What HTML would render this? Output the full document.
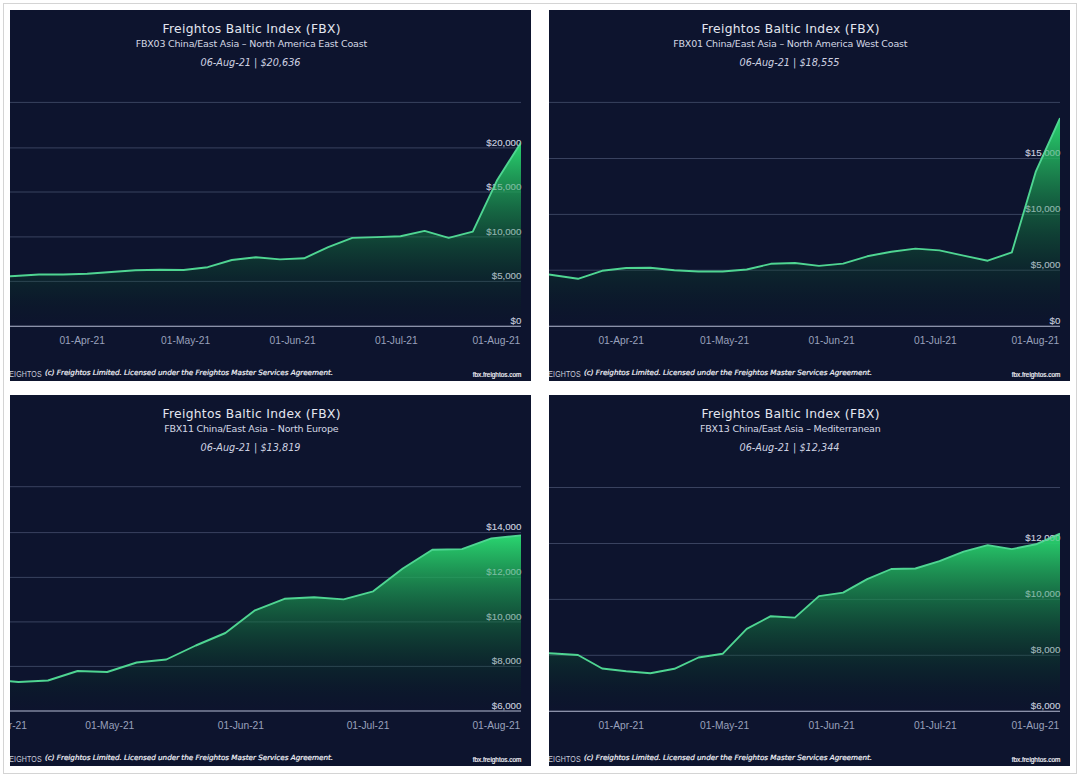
<!DOCTYPE html>
<html lang="en"><head><meta charset="utf-8"><title>Freightos Baltic Index (FBX)</title>
<style>
html,body{margin:0;padding:0;background:#fff;}
body{width:1080px;height:777px;position:relative;overflow:hidden;}
.frame{position:absolute;left:3px;top:3px;width:1074px;height:771px;border:1px solid #d4d4d4;box-sizing:border-box;}
.panel{position:absolute;display:block;overflow:hidden;}
text{font-family:"Liberation Sans",sans-serif;}
.t1{font-family:"DejaVu Sans","Liberation Sans",sans-serif;font-size:12.3px;letter-spacing:0.31px;fill:#e3e6ef;}
.t2{font-family:"DejaVu Sans","Liberation Sans",sans-serif;font-size:9.5px;letter-spacing:-0.19px;fill:#d4d8e5;}
.t3{font-family:"DejaVu Sans","Liberation Sans",sans-serif;font-size:9.7px;font-style:italic;fill:#cdd1e1;}
.gl{stroke:#39425f;stroke-width:1;}
.bl{stroke:#b6bbd3;stroke-width:1.15;}
.yl{font-size:9.7px;fill:#c3c8da;}
.xl{font-size:10.25px;fill:#99a1bc;}
.logo{font-size:9.8px;fill:#c9cddb;letter-spacing:0.2px;}
.ft{font-family:"DejaVu Sans","Liberation Sans",sans-serif;font-size:7.2px;font-style:italic;fill:#f4f5fa;stroke:#f4f5fa;stroke-width:0.2px;}
.url{font-size:6.4px;fill:#f4f5fa;stroke:#f4f5fa;stroke-width:0.18px;}
</style></head>
<body>
<div class="frame"></div>
<svg class="panel" style="left:10px;top:10px" width="521" height="371" viewBox="0 0 521 371">
<defs><linearGradient id="g-tl" gradientUnits="userSpaceOnUse" x1="0" y1="132.4" x2="0" y2="316.2"><stop offset="0.0000" stop-color="rgb(42,214,112)" stop-opacity="1.000"/><stop offset="0.0625" stop-color="rgb(39,202,106)" stop-opacity="0.944"/><stop offset="0.1250" stop-color="rgb(37,191,100)" stop-opacity="0.887"/><stop offset="0.1875" stop-color="rgb(34,179,94)" stop-opacity="0.830"/><stop offset="0.2500" stop-color="rgb(32,168,88)" stop-opacity="0.772"/><stop offset="0.3125" stop-color="rgb(29,156,83)" stop-opacity="0.714"/><stop offset="0.3750" stop-color="rgb(26,144,77)" stop-opacity="0.655"/><stop offset="0.4375" stop-color="rgb(24,133,71)" stop-opacity="0.596"/><stop offset="0.5000" stop-color="rgb(21,121,65)" stop-opacity="0.536"/><stop offset="0.5625" stop-color="rgb(18,109,59)" stop-opacity="0.475"/><stop offset="0.6250" stop-color="rgb(16,98,53)" stop-opacity="0.414"/><stop offset="0.6875" stop-color="rgb(13,86,47)" stop-opacity="0.351"/><stop offset="0.7500" stop-color="rgb(10,74,42)" stop-opacity="0.287"/><stop offset="0.8125" stop-color="rgb(8,63,36)" stop-opacity="0.222"/><stop offset="0.8750" stop-color="rgb(5,51,30)" stop-opacity="0.154"/><stop offset="0.9375" stop-color="rgb(3,40,24)" stop-opacity="0.082"/><stop offset="1.0000" stop-color="rgb(0,28,18)" stop-opacity="0.000"/></linearGradient><clipPath id="c-tl"><rect x="0" y="0" width="511.0" height="371"/></clipPath></defs>
<rect width="521" height="371" fill="#0d142e"/>
<text class="t1" x="241.7" y="22.7" text-anchor="middle">Freightos Baltic Index (FBX)</text>
<text class="t2" x="241.3" y="37.2" text-anchor="middle">FBX03 China/East Asia – North America East Coast</text>
<text class="t3" x="240.5" y="55.9" text-anchor="middle">06-Aug-21 | $20,636</text>
<line class="gl" x1="0" x2="511.0" y1="92.4" y2="92.4"/>
<line class="gl" x1="0" x2="511.0" y1="137.9" y2="137.9"/>
<line class="gl" x1="0" x2="511.0" y1="182.0" y2="182.0"/>
<line class="gl" x1="0" x2="511.0" y1="226.9" y2="226.9"/>
<line class="gl" x1="0" x2="511.0" y1="271.4" y2="271.4"/>
<text class="yl" x="511.4" y="135.5" text-anchor="end">$20,000</text>
<text class="yl" x="511.4" y="179.6" text-anchor="end">$15,000</text>
<text class="yl" x="511.4" y="224.5" text-anchor="end">$10,000</text>
<text class="yl" x="511.4" y="269.0" text-anchor="end">$5,000</text>
<text class="yl" x="511.4" y="313.8" text-anchor="end">$0</text>
<g clip-path="url(#c-tl)"><path d="M-19.2,316.2 L-19.2,267.5 L4.9,266.0 L29.0,264.5 L53.1,264.5 L77.2,263.7 L101.3,262.0 L125.4,260.2 L149.5,259.7 L173.6,260.0 L197.7,257.2 L221.8,250.0 L245.9,247.2 L270.0,249.4 L294.1,248.3 L318.2,237.2 L342.3,227.9 L366.4,227.1 L390.5,226.3 L414.6,220.9 L438.7,227.9 L462.8,221.6 L486.9,170.6 L511.0,132.4 L511.0,316.2 Z" fill="url(#g-tl)"/><polyline points="-19.2,267.5 4.9,266.0 29.0,264.5 53.1,264.5 77.2,263.7 101.3,262.0 125.4,260.2 149.5,259.7 173.6,260.0 197.7,257.2 221.8,250.0 245.9,247.2 270.0,249.4 294.1,248.3 318.2,237.2 342.3,227.9 366.4,227.1 390.5,226.3 414.6,220.9 438.7,227.9 462.8,221.6 486.9,170.6 511.0,132.4" fill="none" stroke="#4fd592" stroke-width="1.9" stroke-linejoin="round" stroke-linecap="butt"/></g>
<text class="yl" opacity="0.45" x="511.4" y="135.5" text-anchor="end">$20,000</text>
<text class="yl" opacity="0.45" x="511.4" y="179.6" text-anchor="end">$15,000</text>
<text class="yl" opacity="0.45" x="511.4" y="224.5" text-anchor="end">$10,000</text>
<text class="yl" opacity="0.45" x="511.4" y="269.0" text-anchor="end">$5,000</text>
<text class="yl" opacity="0.45" x="511.4" y="313.8" text-anchor="end">$0</text>
<line class="bl" x1="0" x2="511.0" y1="316.2" y2="316.2"/>
<text class="xl" x="72.2" y="333.8" text-anchor="middle">01-Apr-21</text>
<text class="xl" x="175.6" y="333.8" text-anchor="middle">01-May-21</text>
<text class="xl" x="282.7" y="333.8" text-anchor="middle">01-Jun-21</text>
<text class="xl" x="386.4" y="333.8" text-anchor="middle">01-Jul-21</text>
<text class="xl" x="510.3" y="333.8" text-anchor="end">01-Aug-21</text>
<text class="logo" transform="translate(31.8,367) scale(0.72,1)" text-anchor="end">FREIGHTOS</text>
<text class="ft" x="35" y="365">(c) Freightos Limited. Licensed under the Freightos Master Services Agreement.</text>
<text class="url" x="511.3" y="367.2" text-anchor="end">fbx.freightos.com</text>
</svg>
<svg class="panel" style="left:549px;top:10px" width="521" height="371" viewBox="0 0 521 371">
<defs><linearGradient id="g-tr" gradientUnits="userSpaceOnUse" x1="0" y1="108.1" x2="0" y2="316.2"><stop offset="0.0000" stop-color="rgb(42,214,112)" stop-opacity="1.000"/><stop offset="0.0625" stop-color="rgb(39,202,106)" stop-opacity="0.944"/><stop offset="0.1250" stop-color="rgb(37,191,100)" stop-opacity="0.887"/><stop offset="0.1875" stop-color="rgb(34,179,94)" stop-opacity="0.830"/><stop offset="0.2500" stop-color="rgb(32,168,88)" stop-opacity="0.772"/><stop offset="0.3125" stop-color="rgb(29,156,83)" stop-opacity="0.714"/><stop offset="0.3750" stop-color="rgb(26,144,77)" stop-opacity="0.655"/><stop offset="0.4375" stop-color="rgb(24,133,71)" stop-opacity="0.596"/><stop offset="0.5000" stop-color="rgb(21,121,65)" stop-opacity="0.536"/><stop offset="0.5625" stop-color="rgb(18,109,59)" stop-opacity="0.475"/><stop offset="0.6250" stop-color="rgb(16,98,53)" stop-opacity="0.414"/><stop offset="0.6875" stop-color="rgb(13,86,47)" stop-opacity="0.351"/><stop offset="0.7500" stop-color="rgb(10,74,42)" stop-opacity="0.287"/><stop offset="0.8125" stop-color="rgb(8,63,36)" stop-opacity="0.222"/><stop offset="0.8750" stop-color="rgb(5,51,30)" stop-opacity="0.154"/><stop offset="0.9375" stop-color="rgb(3,40,24)" stop-opacity="0.082"/><stop offset="1.0000" stop-color="rgb(0,28,18)" stop-opacity="0.000"/></linearGradient><clipPath id="c-tr"><rect x="0" y="0" width="511.0" height="371"/></clipPath></defs>
<rect width="521" height="371" fill="#0d142e"/>
<text class="t1" x="241.7" y="22.7" text-anchor="middle">Freightos Baltic Index (FBX)</text>
<text class="t2" x="241.3" y="37.2" text-anchor="middle">FBX01 China/East Asia – North America West Coast</text>
<text class="t3" x="240.5" y="55.9" text-anchor="middle">06-Aug-21 | $18,555</text>
<line class="gl" x1="0" x2="511.0" y1="92.4" y2="92.4"/>
<line class="gl" x1="0" x2="511.0" y1="148.5" y2="148.5"/>
<line class="gl" x1="0" x2="511.0" y1="204.4" y2="204.4"/>
<line class="gl" x1="0" x2="511.0" y1="260.2" y2="260.2"/>
<text class="yl" x="511.4" y="146.1" text-anchor="end">$15,000</text>
<text class="yl" x="511.4" y="202.0" text-anchor="end">$10,000</text>
<text class="yl" x="511.4" y="257.8" text-anchor="end">$5,000</text>
<text class="yl" x="511.4" y="313.8" text-anchor="end">$0</text>
<g clip-path="url(#c-tr)"><path d="M-19.2,316.2 L-19.2,262.0 L4.9,265.2 L29.0,268.8 L53.1,260.8 L77.2,258.0 L101.3,257.8 L125.4,260.2 L149.5,261.5 L173.6,261.5 L197.7,259.5 L221.8,253.8 L245.9,253.0 L270.0,255.9 L294.1,253.6 L318.2,246.3 L342.3,241.7 L366.4,238.6 L390.5,240.4 L414.6,245.6 L438.7,250.7 L462.8,242.4 L486.9,161.3 L511.0,108.1 L511.0,316.2 Z" fill="url(#g-tr)"/><polyline points="-19.2,262.0 4.9,265.2 29.0,268.8 53.1,260.8 77.2,258.0 101.3,257.8 125.4,260.2 149.5,261.5 173.6,261.5 197.7,259.5 221.8,253.8 245.9,253.0 270.0,255.9 294.1,253.6 318.2,246.3 342.3,241.7 366.4,238.6 390.5,240.4 414.6,245.6 438.7,250.7 462.8,242.4 486.9,161.3 511.0,108.1" fill="none" stroke="#4fd592" stroke-width="1.9" stroke-linejoin="round" stroke-linecap="butt"/></g>
<text class="yl" opacity="0.45" x="511.4" y="146.1" text-anchor="end">$15,000</text>
<text class="yl" opacity="0.45" x="511.4" y="202.0" text-anchor="end">$10,000</text>
<text class="yl" opacity="0.45" x="511.4" y="257.8" text-anchor="end">$5,000</text>
<text class="yl" opacity="0.45" x="511.4" y="313.8" text-anchor="end">$0</text>
<line class="bl" x1="0" x2="511.0" y1="316.2" y2="316.2"/>
<text class="xl" x="72.2" y="333.8" text-anchor="middle">01-Apr-21</text>
<text class="xl" x="175.6" y="333.8" text-anchor="middle">01-May-21</text>
<text class="xl" x="282.7" y="333.8" text-anchor="middle">01-Jun-21</text>
<text class="xl" x="386.4" y="333.8" text-anchor="middle">01-Jul-21</text>
<text class="xl" x="510.3" y="333.8" text-anchor="end">01-Aug-21</text>
<text class="logo" transform="translate(31.8,367) scale(0.72,1)" text-anchor="end">FREIGHTOS</text>
<text class="ft" x="35" y="365">(c) Freightos Limited. Licensed under the Freightos Master Services Agreement.</text>
<text class="url" x="511.3" y="367.2" text-anchor="end">fbx.freightos.com</text>
</svg>
<svg class="panel" style="left:10px;top:395px" width="521" height="371" viewBox="0 0 521 371">
<defs><linearGradient id="g-bl" gradientUnits="userSpaceOnUse" x1="0" y1="140.4" x2="0" y2="316.0"><stop offset="0.0000" stop-color="rgb(42,214,112)" stop-opacity="1.000"/><stop offset="0.0625" stop-color="rgb(39,202,106)" stop-opacity="0.944"/><stop offset="0.1250" stop-color="rgb(37,191,100)" stop-opacity="0.887"/><stop offset="0.1875" stop-color="rgb(34,179,94)" stop-opacity="0.830"/><stop offset="0.2500" stop-color="rgb(32,168,88)" stop-opacity="0.772"/><stop offset="0.3125" stop-color="rgb(29,156,83)" stop-opacity="0.714"/><stop offset="0.3750" stop-color="rgb(26,144,77)" stop-opacity="0.655"/><stop offset="0.4375" stop-color="rgb(24,133,71)" stop-opacity="0.596"/><stop offset="0.5000" stop-color="rgb(21,121,65)" stop-opacity="0.536"/><stop offset="0.5625" stop-color="rgb(18,109,59)" stop-opacity="0.475"/><stop offset="0.6250" stop-color="rgb(16,98,53)" stop-opacity="0.414"/><stop offset="0.6875" stop-color="rgb(13,86,47)" stop-opacity="0.351"/><stop offset="0.7500" stop-color="rgb(10,74,42)" stop-opacity="0.287"/><stop offset="0.8125" stop-color="rgb(8,63,36)" stop-opacity="0.222"/><stop offset="0.8750" stop-color="rgb(5,51,30)" stop-opacity="0.154"/><stop offset="0.9375" stop-color="rgb(3,40,24)" stop-opacity="0.082"/><stop offset="1.0000" stop-color="rgb(0,28,18)" stop-opacity="0.000"/></linearGradient><clipPath id="c-bl"><rect x="0" y="0" width="511.0" height="371"/></clipPath></defs>
<rect width="521" height="371" fill="#0d142e"/>
<text class="t1" x="241.7" y="22.7" text-anchor="middle">Freightos Baltic Index (FBX)</text>
<text class="t2" x="241.3" y="37.2" text-anchor="middle">FBX11 China/East Asia – North Europe</text>
<text class="t3" x="240.5" y="55.9" text-anchor="middle">06-Aug-21 | $13,819</text>
<line class="gl" x1="0" x2="511.0" y1="91.7" y2="91.7"/>
<line class="gl" x1="0" x2="511.0" y1="137.6" y2="137.6"/>
<line class="gl" x1="0" x2="511.0" y1="182.4" y2="182.4"/>
<line class="gl" x1="0" x2="511.0" y1="226.9" y2="226.9"/>
<line class="gl" x1="0" x2="511.0" y1="271.4" y2="271.4"/>
<text class="yl" x="511.4" y="135.2" text-anchor="end">$14,000</text>
<text class="yl" x="511.4" y="180.0" text-anchor="end">$12,000</text>
<text class="yl" x="511.4" y="224.5" text-anchor="end">$10,000</text>
<text class="yl" x="511.4" y="269.0" text-anchor="end">$8,000</text>
<text class="yl" x="511.4" y="313.6" text-anchor="end">$6,000</text>
<g clip-path="url(#c-bl)"><path d="M-21.1,316.0 L-21.1,284.4 L8.5,287.0 L38.0,285.5 L67.6,276.0 L97.2,277.0 L126.7,267.5 L156.3,264.5 L185.8,250.5 L215.4,238.0 L245.0,215.3 L274.5,203.8 L304.1,202.2 L333.6,204.4 L363.2,196.3 L392.8,173.5 L422.3,154.7 L451.9,154.1 L481.4,143.4 L511.0,140.4 L511.0,316.0 Z" fill="url(#g-bl)"/><polyline points="-21.1,284.4 8.5,287.0 38.0,285.5 67.6,276.0 97.2,277.0 126.7,267.5 156.3,264.5 185.8,250.5 215.4,238.0 245.0,215.3 274.5,203.8 304.1,202.2 333.6,204.4 363.2,196.3 392.8,173.5 422.3,154.7 451.9,154.1 481.4,143.4 511.0,140.4" fill="none" stroke="#4fd592" stroke-width="1.9" stroke-linejoin="round" stroke-linecap="butt"/></g>
<text class="yl" opacity="0.45" x="511.4" y="135.2" text-anchor="end">$14,000</text>
<text class="yl" opacity="0.45" x="511.4" y="180.0" text-anchor="end">$12,000</text>
<text class="yl" opacity="0.45" x="511.4" y="224.5" text-anchor="end">$10,000</text>
<text class="yl" opacity="0.45" x="511.4" y="269.0" text-anchor="end">$8,000</text>
<text class="yl" opacity="0.45" x="511.4" y="313.6" text-anchor="end">$6,000</text>
<line class="bl" x1="0" x2="511.0" y1="316.0" y2="316.0"/>
<text class="xl" x="17.0" y="333.8" text-anchor="end">01-Apr-21</text>
<text class="xl" x="99.8" y="333.8" text-anchor="middle">01-May-21</text>
<text class="xl" x="230.9" y="333.8" text-anchor="middle">01-Jun-21</text>
<text class="xl" x="358.0" y="333.8" text-anchor="middle">01-Jul-21</text>
<text class="xl" x="510.3" y="333.8" text-anchor="end">01-Aug-21</text>
<text class="logo" transform="translate(31.8,367) scale(0.72,1)" text-anchor="end">FREIGHTOS</text>
<text class="ft" x="35" y="365">(c) Freightos Limited. Licensed under the Freightos Master Services Agreement.</text>
<text class="url" x="511.3" y="367.2" text-anchor="end">fbx.freightos.com</text>
</svg>
<svg class="panel" style="left:549px;top:395px" width="521" height="371" viewBox="0 0 521 371">
<defs><linearGradient id="g-br" gradientUnits="userSpaceOnUse" x1="0" y1="138.6" x2="0" y2="316.2"><stop offset="0.0000" stop-color="rgb(42,214,112)" stop-opacity="1.000"/><stop offset="0.0625" stop-color="rgb(39,202,106)" stop-opacity="0.944"/><stop offset="0.1250" stop-color="rgb(37,191,100)" stop-opacity="0.887"/><stop offset="0.1875" stop-color="rgb(34,179,94)" stop-opacity="0.830"/><stop offset="0.2500" stop-color="rgb(32,168,88)" stop-opacity="0.772"/><stop offset="0.3125" stop-color="rgb(29,156,83)" stop-opacity="0.714"/><stop offset="0.3750" stop-color="rgb(26,144,77)" stop-opacity="0.655"/><stop offset="0.4375" stop-color="rgb(24,133,71)" stop-opacity="0.596"/><stop offset="0.5000" stop-color="rgb(21,121,65)" stop-opacity="0.536"/><stop offset="0.5625" stop-color="rgb(18,109,59)" stop-opacity="0.475"/><stop offset="0.6250" stop-color="rgb(16,98,53)" stop-opacity="0.414"/><stop offset="0.6875" stop-color="rgb(13,86,47)" stop-opacity="0.351"/><stop offset="0.7500" stop-color="rgb(10,74,42)" stop-opacity="0.287"/><stop offset="0.8125" stop-color="rgb(8,63,36)" stop-opacity="0.222"/><stop offset="0.8750" stop-color="rgb(5,51,30)" stop-opacity="0.154"/><stop offset="0.9375" stop-color="rgb(3,40,24)" stop-opacity="0.082"/><stop offset="1.0000" stop-color="rgb(0,28,18)" stop-opacity="0.000"/></linearGradient><clipPath id="c-br"><rect x="0" y="0" width="511.0" height="371"/></clipPath></defs>
<rect width="521" height="371" fill="#0d142e"/>
<text class="t1" x="241.7" y="22.7" text-anchor="middle">Freightos Baltic Index (FBX)</text>
<text class="t2" x="241.3" y="37.2" text-anchor="middle">FBX13 China/East Asia – Mediterranean</text>
<text class="t3" x="240.5" y="55.9" text-anchor="middle">06-Aug-21 | $12,344</text>
<line class="gl" x1="0" x2="511.0" y1="92.5" y2="92.5"/>
<line class="gl" x1="0" x2="511.0" y1="148.5" y2="148.5"/>
<line class="gl" x1="0" x2="511.0" y1="204.4" y2="204.4"/>
<line class="gl" x1="0" x2="511.0" y1="260.3" y2="260.3"/>
<text class="yl" x="511.4" y="146.1" text-anchor="end">$12,000</text>
<text class="yl" x="511.4" y="202.0" text-anchor="end">$10,000</text>
<text class="yl" x="511.4" y="257.9" text-anchor="end">$8,000</text>
<text class="yl" x="511.4" y="313.8" text-anchor="end">$6,000</text>
<g clip-path="url(#c-br)"><path d="M-19.2,316.2 L-19.2,257.0 L4.9,258.5 L29.0,260.0 L53.1,273.5 L77.2,276.2 L101.3,278.2 L125.4,273.8 L149.5,262.5 L173.6,258.8 L197.7,233.8 L221.8,221.2 L245.9,222.6 L270.0,201.1 L294.1,197.6 L318.2,184.2 L342.3,174.0 L366.4,173.5 L390.5,166.2 L414.6,156.6 L438.7,150.1 L462.8,154.1 L486.9,149.3 L511.0,138.6 L511.0,316.2 Z" fill="url(#g-br)"/><polyline points="-19.2,257.0 4.9,258.5 29.0,260.0 53.1,273.5 77.2,276.2 101.3,278.2 125.4,273.8 149.5,262.5 173.6,258.8 197.7,233.8 221.8,221.2 245.9,222.6 270.0,201.1 294.1,197.6 318.2,184.2 342.3,174.0 366.4,173.5 390.5,166.2 414.6,156.6 438.7,150.1 462.8,154.1 486.9,149.3 511.0,138.6" fill="none" stroke="#4fd592" stroke-width="1.9" stroke-linejoin="round" stroke-linecap="butt"/></g>
<text class="yl" opacity="0.45" x="511.4" y="146.1" text-anchor="end">$12,000</text>
<text class="yl" opacity="0.45" x="511.4" y="202.0" text-anchor="end">$10,000</text>
<text class="yl" opacity="0.45" x="511.4" y="257.9" text-anchor="end">$8,000</text>
<text class="yl" opacity="0.45" x="511.4" y="313.8" text-anchor="end">$6,000</text>
<line class="bl" x1="0" x2="511.0" y1="316.2" y2="316.2"/>
<text class="xl" x="72.2" y="333.8" text-anchor="middle">01-Apr-21</text>
<text class="xl" x="175.6" y="333.8" text-anchor="middle">01-May-21</text>
<text class="xl" x="282.7" y="333.8" text-anchor="middle">01-Jun-21</text>
<text class="xl" x="386.4" y="333.8" text-anchor="middle">01-Jul-21</text>
<text class="xl" x="510.3" y="333.8" text-anchor="end">01-Aug-21</text>
<text class="logo" transform="translate(31.8,367) scale(0.72,1)" text-anchor="end">FREIGHTOS</text>
<text class="ft" x="35" y="365">(c) Freightos Limited. Licensed under the Freightos Master Services Agreement.</text>
<text class="url" x="511.3" y="367.2" text-anchor="end">fbx.freightos.com</text>
</svg>
</body></html>
